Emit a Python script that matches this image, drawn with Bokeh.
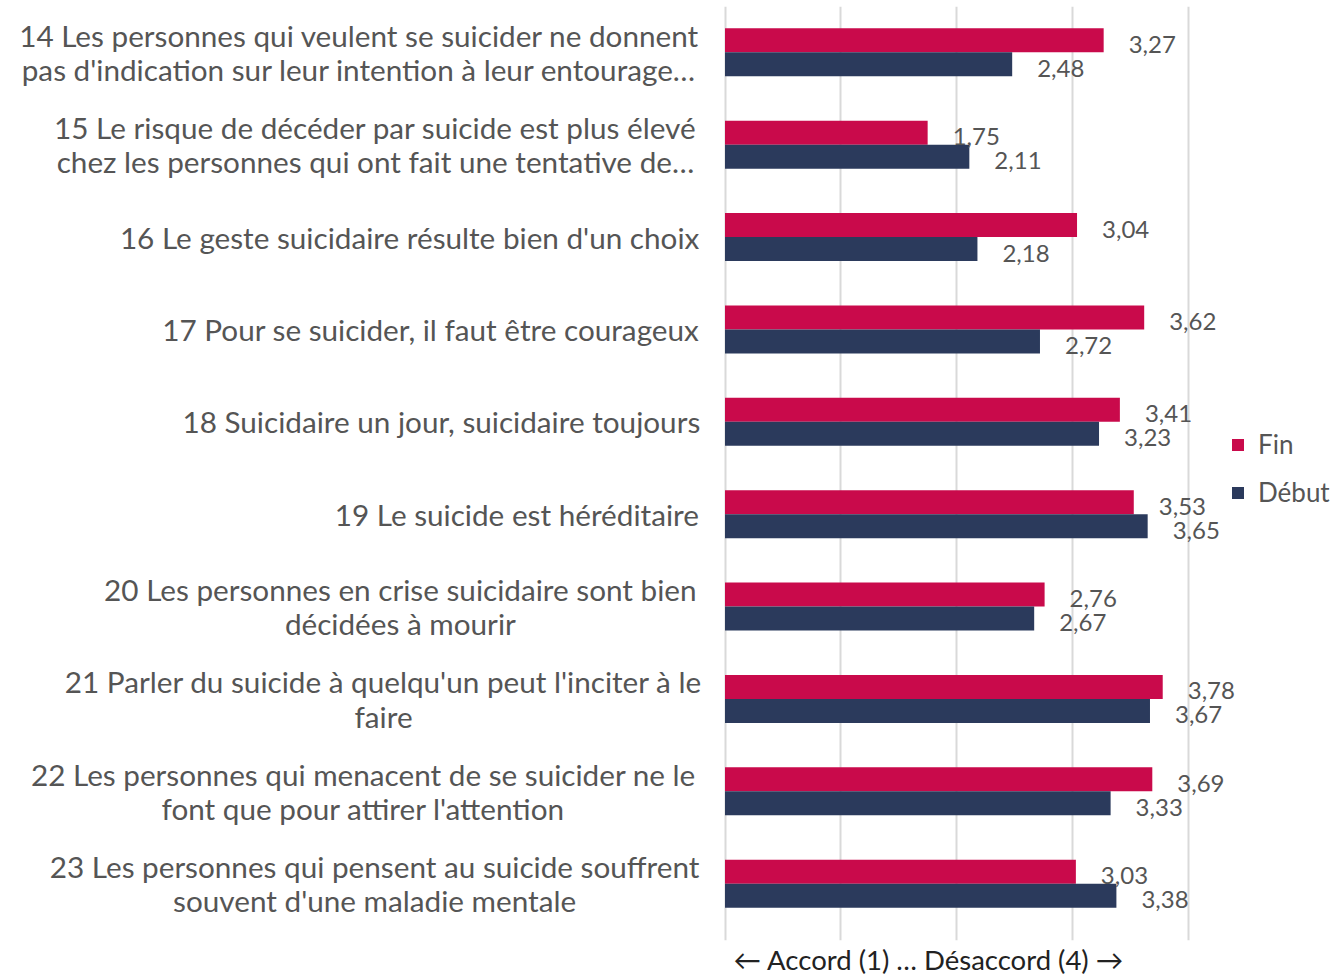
from bokeh.plotting import figure
from bokeh.models import ColumnDataSource, FixedTicker, Legend, LegendItem, Range1d, Title
from bokeh.transform import dodge
from bokeh.core.properties import value
from bokeh.embed import file_html
from bokeh.resources import INLINE

categories = [
    "14 Les personnes qui veulent se suicider ne donnent\npas d'indication sur leur intention à leur entourage…",
    "15 Le risque de décéder par suicide est plus élevé\nchez les personnes qui ont fait une tentative de…",
    "16 Le geste suicidaire résulte bien d'un choix",
    "17 Pour se suicider, il faut être courageux",
    "18 Suicidaire un jour, suicidaire toujours",
    "19 Le suicide est héréditaire",
    "20 Les personnes en crise suicidaire sont bien\ndécidées à mourir",
    "21 Parler du suicide à quelqu'un peut l'inciter à le\nfaire",
    "22 Les personnes qui menacent de se suicider ne le\nfont que pour attirer l'attention",
    "23 Les personnes qui pensent au suicide souffrent\nsouvent d'une maladie mentale",
]
fin = [3.27, 1.75, 3.04, 3.62, 3.41, 3.53, 2.76, 3.78, 3.69, 3.03]
debut = [2.48, 2.11, 2.18, 2.72, 3.23, 3.65, 2.67, 3.67, 3.33, 3.38]
series_names = ["Fin", "Début"]
xticks = [0, 1, 2, 3, 4]
axis_text = "← Accord (1) … Désaccord (4) →"

FIN_COLOR = "#C90A4B"
DEB_COLOR = "#2B3A5C"
TEXT_COLOR = "#555555"
FONT = "Lato"
CAT_SIZE = 29.7

# approximate glyph advance widths (per 1000 em) used only to right-align
# the centred multi-line category labels
_W = {" ": 278, "'": 191, ",": 278, ".": 278, "…": 1000, "(": 333, ")": 333,
      "a": 556, "b": 556, "c": 500, "d": 556, "e": 556, "f": 278, "g": 556, "h": 556,
      "i": 222, "j": 222, "k": 500, "l": 222, "m": 833, "n": 556, "o": 556, "p": 556,
      "q": 556, "r": 333, "s": 500, "t": 278, "u": 556, "v": 500, "w": 722, "x": 500,
      "y": 500, "z": 500, "é": 556, "è": 556, "ê": 556, "à": 556, "L": 556, "P": 667,
      "S": 667}
def text_width(s, size):
    return sum(_W.get(ch, 556) for ch in s) / 1000.0 * size * 0.973

n = len(categories)
ypos = [n - 1 - i for i in range(n)]

def fmt(v):
    return f"{v:.2f}".replace(".", ",")

src = ColumnDataSource(dict(
    y=ypos, fin=fin, debut=debut,
    fin_lbl=[fmt(v) for v in fin], deb_lbl=[fmt(v) for v in debut],
    cat=categories,
    cat_off=[-(27.5 + max(text_width(l, CAT_SIZE) for l in c.split("\n")) / 2) for c in categories],
    zero=[0] * n,
))

UNIT = 115.8
p = figure(width=1339, height=975, output_backend="svg", toolbar_location=None,
           x_range=Range1d(-724.5 / UNIT, (1339 - 724.5) / UNIT),
           y_range=Range1d(-0.615, 9.496),
           min_border_left=0, min_border_right=0, min_border_top=6, min_border_bottom=32)
p.outline_line_color = None
p.background_fill_color = "white"

p.xaxis.visible = False
p.yaxis.visible = False
p.xgrid.ticker = FixedTicker(ticks=xticks)
p.xgrid.grid_line_color = "#d9d9d9"
p.xgrid.grid_line_width = 2
p.ygrid.visible = False

bar_h = 0.26
r_fin = p.hbar(y=dodge("y", bar_h / 2), left=0, right="fin", height=bar_h, source=src,
               fill_color=FIN_COLOR, line_color=None)
r_deb = p.hbar(y=dodge("y", -bar_h / 2), left=0, right="debut", height=bar_h, source=src,
               fill_color=DEB_COLOR, line_color=None)

for col, lbl, off in (("fin", "fin_lbl", bar_h / 2), ("debut", "deb_lbl", -bar_h / 2)):
    p.text(x=col, y=dodge("y", off), text=lbl, source=src, x_offset=25, y_offset=4,
           text_baseline="middle", text_align="left", text_font=value(FONT),
           text_font_size="24px", text_color=TEXT_COLOR)

# category labels, lines centred, block right-aligned left of the zero line
p.text(x="zero", y="y", text="cat", source=src, x_offset="cat_off",
       text_align="center", text_baseline="middle", text_font=value(FONT),
       text_font_size=f"{CAT_SIZE}px", text_line_height=0.98, text_color=TEXT_COLOR)

legend = Legend(items=[LegendItem(label=series_names[0], renderers=[r_fin]),
                       LegendItem(label=series_names[1], renderers=[r_deb])],
                location=(1230, 432), orientation="vertical",
                glyph_width=15, glyph_height=15, label_standoff=13,
                label_text_font=FONT, label_text_font_size="26px", label_text_color=TEXT_COLOR,
                label_height=26, spacing=16, padding=0, margin=0,
                border_line_color=None, background_fill_alpha=0)
p.add_layout(legend)

p.add_layout(Title(text=axis_text, align="left", offset=733, standoff=0,
                   text_font=FONT, text_font_size="27.5px", text_font_style="normal",
                   text_color="#222222"), "below")

open("out.html", "w").write(file_html(p, INLINE))
